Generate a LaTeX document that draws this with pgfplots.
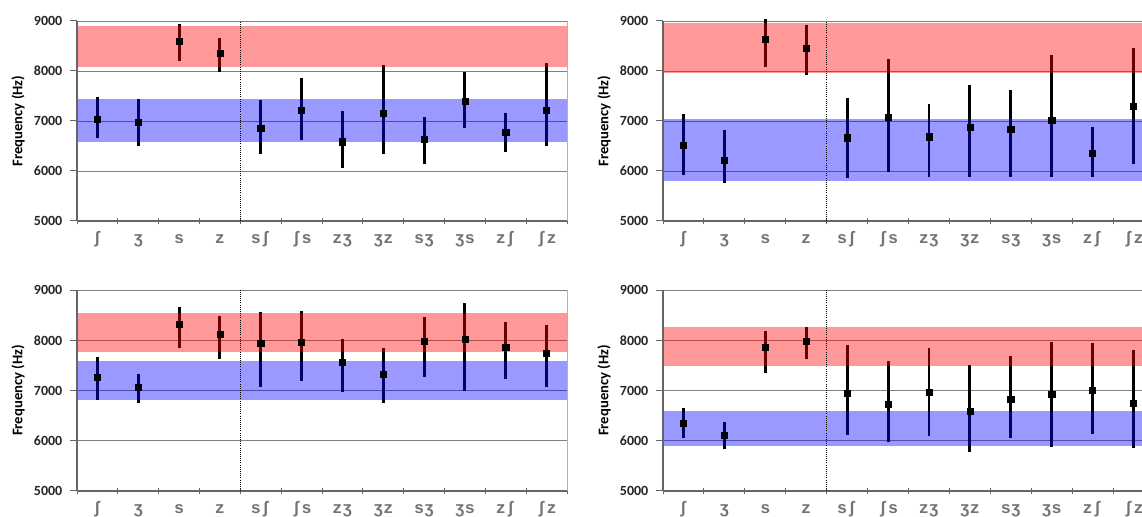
\documentclass[border=0pt]{standalone}
\usepackage{pgfplots}
\pgfplotsset{compat=1.18}
\usepackage{pgfplotstable}
\usepackage{fontspec}
\setmainfont{Liberation Sans}
\newfontfamily\ipafont{Liberation Mono}
\newfontfamily\calfont{Carlito}

\pgfplotstableread{
x y hi lo
1 7030 7483 6650
2 6983 7443 6504
3 8594 8933 8195
4 8361 8667 7988
5 6850 7416 6338
6 7216 7855 6617
7 6584 7196 6052
8 7163 8128 6331
9 6631 7070 6138
10 7403 7975 6864
11 6777 7150 6371
12 7216 8168 6504
}\dataA
\pgfplotstableread{
x y hi lo
1 6511 7130 5918
2 6218 6817 5765
3 8627 9047 8082
4 8454 8913 7915
5 6664 7463 5865
6 7070 8248 5972
7 6684 7330 5872
8 6870 7715 5872
9 6830 7616 5872
10 7017 8314 5885
11 6351 6884 5872
12 7296 8468 6138
}\dataB
\pgfplotstableread{
x y hi lo
1 7262 7673 6811
2 7070 7328 6758
3 8323 8655 7839
4 8118 8483 7620
5 7939 8569 7076
6 7952 8582 7196
7 7554 8018 6963
8 7315 7839 6745
9 7985 8456 7262
10 8025 8735 6990
11 7859 8370 7222
12 7740 8303 7076
}\dataC
\pgfplotstableread{
x y hi lo
1 6347 6645 6048
2 6101 6367 5836
3 7859 8191 7342
4 7985 8257 7620
5 6944 7905 6114
6 6731 7594 5968
7 6957 7839 6101
8 6592 7507 5769
9 6831 7693 6048
10 6924 7959 5882
11 6997 7939 6134
12 6745 7806 5849
}\dataD

\pgfplotsset{
  panel/.style={
    scale only axis, width=367.5pt, height=150pt, anchor=south west,
    xmin=0.5, xmax=12.5, ymin=5000, ymax=9000, clip=false,
    axis lines*=left,
    axis line style={black!60, line width=0.9pt},
    xtick={0.5,1.5,2.5,3.5,4.5,5.5,6.5,7.5,8.5,9.5,10.5,11.5,12.5},
    xticklabels={{},{},{},{},{},{},{},{},{},{},{},{},{}},
    xtick align=center, major tick length=5pt,
    extra x ticks={1,2,3,4,5,6,7,8,9,10,11,12},
    extra x tick labels={ʃ,ʒ,s,z,sʃ,ʃs,zʒ,ʒz,sʒ,ʒs,zʃ,ʃz},
    extra x tick style={major tick length=0pt,
      xticklabel style={font=\ipafont\fontsize{12.5}{14}\selectfont, text=black!55, anchor=base, yshift=-17pt}},
    ytick={5000,6000,7000,8000,9000},
    ytick align=outside,
    yticklabel style={font=\fontsize{10.5}{12}\selectfont, text=black!85, /pgf/number format/1000 sep={}, /pgf/number format/assume math mode=true},
    tick style={black!60, line width=0.75pt},
    ymajorgrids,
    major grid style={black!50, line width=0.6pt},
    ylabel={Frequency (Hz)},
    ylabel style={font=\fontsize{11}{13}\selectfont, at={(axis description cs:-0.12,0.5)}, anchor=center},
  },
  errs/.style={black, only marks, mark=square*, mark size=2.3pt,
    error bars/.cd, y dir=both, y explicit, error mark=none,
    error bar style={line width=2.2pt, black}},
  redband/.style={draw=none, fill=red, fill opacity=0.4},
  blueband/.style={draw=none, fill=blue, fill opacity=0.4},
}

\newcommand\panelbody[6]{%
  \addplot[errs] table[x=x, y=y, y error plus expr=\thisrow{hi}-\thisrow{y}, y error minus expr=\thisrow{y}-\thisrow{lo}] {#1};
  \addplot[redband] coordinates {(0.5,#2) (12.5,#2) (12.5,#3) (0.5,#3)};
  \addplot[blueband] coordinates {(0.5,#4) (12.5,#4) (12.5,#5) (0.5,#5)};
  \addplot[black, densely dotted, line width=0.6pt] coordinates {(4.5,5000) (4.5,9000)};
  \draw[black!30, line width=0.75pt] (rel axis cs:1,0) -- (rel axis cs:1,1);
  \draw[black!60, line width=0.9pt] (rel axis cs:0,0) -- (rel axis cs:0,1);
}

\begin{document}
\begin{tikzpicture}
\path[use as bounding box, clip] (0,0) rectangle (856.5pt,387.75pt);

\begin{axis}[panel, at={(57.75pt,222pt)}]
\panelbody{\dataA}{8082}{8894}{6571}{7436}
\node[anchor=base west, font=\calfont\bfseries\fontsize{17.5}{20}\selectfont] at (rel axis cs:0.032,0.0965) {S1-FR};
\end{axis}

\begin{axis}[panel, at={(497.25pt,222pt)}, width=368.25pt]
\panelbody{\dataB}{7968}{8960}{5805}{7037}
\node[anchor=base west, font=\calfont\bfseries\fontsize{17.5}{20}\selectfont] at (rel axis cs:0.020,0.07) {S2-FR};
\end{axis}

\begin{axis}[panel, at={(57.75pt,19.5pt)}, height=150.75pt]
\panelbody{\dataC}{7760}{8536}{6811}{7594}
\node[anchor=base west, font=\calfont\bfseries\fontsize{17.5}{20}\selectfont] at (rel axis cs:0.0116,0.076) {S3-FR};
\end{axis}

\begin{axis}[panel, at={(497.25pt,19.5pt)}, width=368.25pt, height=150.75pt]
\panelbody{\dataD}{7488}{8257}{5902}{6599}
\node[anchor=base west, font=\calfont\bfseries\fontsize{17.5}{20}\selectfont] at (rel axis cs:0.0129,0.061) {S4-FR};
\end{axis}
\end{tikzpicture}
\end{document}
